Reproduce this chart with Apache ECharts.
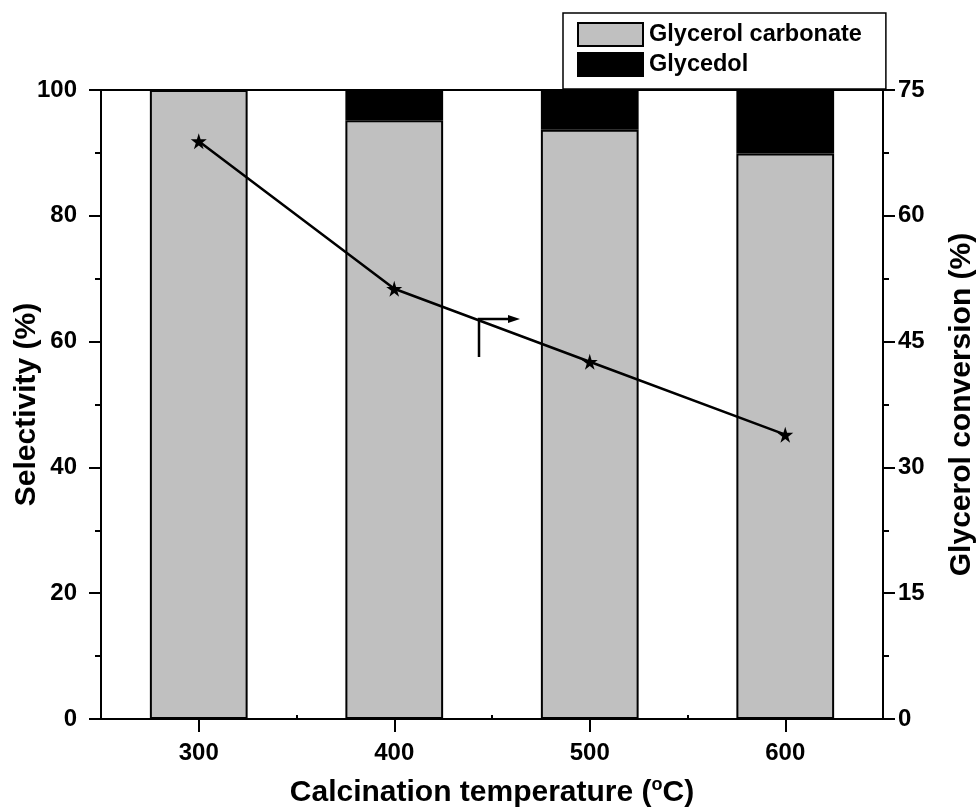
<!DOCTYPE html>
<html>
<head>
<meta charset="utf-8">
<script src="https://cdn.jsdelivr.net/npm/echarts@6/dist/echarts.min.js"></script>
<style>
  html, body { margin: 0; padding: 0; background: #fff; }
  #chart { width: 977px; height: 812px; }
</style>
</head>
<body>
<div id="chart"></div>
<script>
// Calcination temperatures (°C)
const temperatures = ['300', '400', '500', '600'];
// Product selectivity (%), stacked
const carbonateSelectivity = [100, 95.2, 93.7, 89.9];
const glycedolSelectivity = [0, 4.8, 6.3, 10.1];
// Glycerol conversion (%), right axis
const glycerolConversion = [68.9, 51.3, 42.6, 33.9];
// Axis tick labels
const selectivityTicks = [0, 20, 40, 60, 80, 100];
const conversionTicks = [0, 15, 30, 45, 60, 75];

const FONT = '"Liberation Sans", Arial, sans-serif';
const STAR = 'path://M50,0 L61,35 L98,35 L68,57 L79,91 L50,70 L21,91 L32,57 L2,35 L39,35 Z';

const chart = echarts.init(document.getElementById('chart'), null, { renderer: 'canvas' });

const tickLabel = { color: '#000', fontFamily: FONT, fontWeight: 'bold', fontSize: 24 };
const titleStyle = { fontFamily: FONT, fontWeight: 'bold', fontSize: 30, color: '#000' };

const option = {
  animation: false,
  backgroundColor: '#fff',
  grid: {
    left: 101, right: 94, top: 90, bottom: 93,
    containLabel: false,
    outerBoundsMode: 'none',
    show: true, borderColor: '#000', borderWidth: 2, backgroundColor: 'transparent'
  },
  legend: {
    orient: 'vertical',
    left: 563, top: 13,
    data: ['Glycerol carbonate', 'Glycedol'],
    icon: 'rect',
    itemWidth: 65, itemHeight: 23, itemGap: 5,
    padding: [9, 24, 12, 14],
    backgroundColor: '#fff',
    borderColor: '#000', borderWidth: 1.5,
    textStyle: { color: '#000', fontFamily: FONT, fontWeight: 'bold', fontSize: 23.5, padding: [0, 0, 0, 1] }
  },
  xAxis: [
    {
      type: 'category',
      data: temperatures,
      position: 'bottom',
      boundaryGap: true,
      axisLine: { show: true, lineStyle: { color: '#000', width: 2 } },
      axisTick: { show: true, alignWithLabel: true, length: 13, lineStyle: { color: '#000', width: 2 } },
      axisLabel: Object.assign({ margin: 22 }, tickLabel),
      name: '{t|Calcination temperature (}{s|o}{t|C)}',
      nameLocation: 'middle',
      nameGap: 57,
      nameTextStyle: {
        rich: {
          t: titleStyle,
          s: { fontFamily: FONT, fontWeight: 'bold', fontSize: 18, color: '#000', verticalAlign: 'top', padding: [0, 0, 16, 0] }
        }
      },
      splitLine: { show: false }
    },
    {
      // short inner ticks at the category boundaries
      type: 'category',
      data: temperatures,
      position: 'bottom',
      boundaryGap: true,
      axisLine: { show: false },
      axisTick: { show: true, alignWithLabel: false, inside: true, length: 4, lineStyle: { color: '#000', width: 2 } },
      axisLabel: { show: false },
      splitLine: { show: false }
    }
  ],
  yAxis: [
    {
      type: 'value',
      min: 0, max: 100, interval: 20,
      position: 'left',
      axisLine: { show: true, lineStyle: { color: '#000', width: 2 } },
      axisTick: { show: true, length: 12, lineStyle: { color: '#000', width: 2 } },
      minorTick: { show: true, splitNumber: 2, length: 6, lineStyle: { color: '#000', width: 2 } },
      axisLabel: Object.assign({ margin: 24, formatter: v => selectivityTicks.includes(v) ? String(v) : '' }, tickLabel),
      splitLine: { show: false },
      name: 'Selectivity (%)',
      nameLocation: 'middle',
      nameGap: 59,
      nameRotate: 90,
      nameMoveOverlap: false,
      nameTextStyle: titleStyle
    },
    {
      type: 'value',
      min: 0, max: 75, interval: 15,
      position: 'right',
      axisLine: { show: true, lineStyle: { color: '#000', width: 2 } },
      axisTick: { show: true, length: 12, lineStyle: { color: '#000', width: 2 } },
      minorTick: { show: true, splitNumber: 2, length: 6, lineStyle: { color: '#000', width: 2 } },
      axisLabel: Object.assign({ margin: 15, formatter: v => conversionTicks.includes(v) ? String(v) : '' }, tickLabel),
      splitLine: { show: false },
      name: 'Glycerol conversion (%)',
      nameLocation: 'middle',
      nameGap: 64,
      nameRotate: 90,
      nameMoveOverlap: false,
      nameTextStyle: titleStyle
    }
  ],
  series: [
    {
      name: 'Glycerol carbonate',
      type: 'bar',
      stack: 'selectivity',
      barWidth: '50%',
      data: carbonateSelectivity,
      itemStyle: { color: '#c0c0c0', borderColor: '#000', borderWidth: 2 }
    },
    {
      name: 'Glycedol',
      type: 'bar',
      stack: 'selectivity',
      barWidth: '50%',
      data: glycedolSelectivity,
      itemStyle: { color: '#000', borderColor: '#000', borderWidth: 2 }
    },
    {
      name: 'Glycerol conversion',
      type: 'line',
      yAxisIndex: 1,
      data: glycerolConversion,
      symbol: STAR,
      symbolSize: 16,
      lineStyle: { color: '#000', width: 2.5 },
      itemStyle: { color: '#000' },
      z: 5
    }
  ]
};

chart.setOption(option);

// Arrow marking the conversion curve as belonging to the right axis
(function () {
  const x0 = 479, yTop = 319, yBot = 357, xTip = 520;
  chart.setOption({
    graphic: [
      {
        type: 'polyline',
        shape: { points: [[x0, yBot], [x0, yTop], [xTip - 8, yTop]] },
        style: { stroke: '#000', lineWidth: 2.5, fill: null },
        z: 10
      },
      {
        type: 'polygon',
        shape: { points: [[xTip, yTop], [xTip - 12, yTop - 4], [xTip - 12, yTop + 4]] },
        style: { fill: '#000' },
        z: 10
      }
    ]
  });
})();
</script>
</body>
</html>
